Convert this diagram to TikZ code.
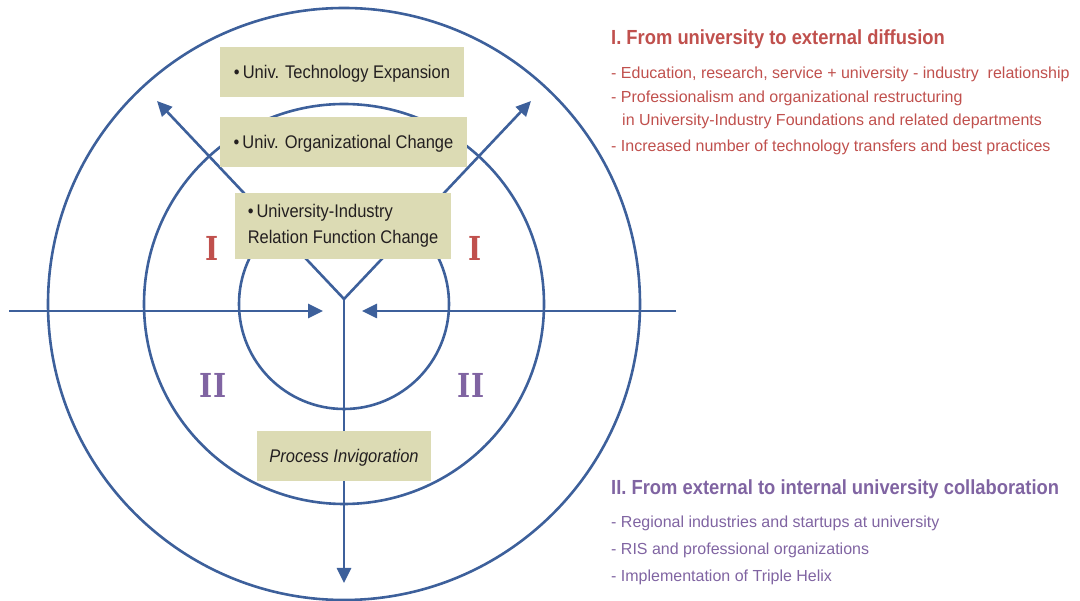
\documentclass[tikz,border=0pt]{standalone}
\usepackage{fontspec}
\setmainfont{Liberation Sans}
\newfontfamily\condfont{Liberation Sans}[FakeStretch=0.9]
\newfontfamily\numfont{DejaVu Serif}[FakeStretch=0.85]
\usetikzlibrary{arrows.meta}

\definecolor{ringblue}{RGB}{61,96,155}
\definecolor{boxfill}{RGB}{220,219,180}
\definecolor{textdark}{RGB}{35,31,32}
\definecolor{redone}{RGB}{192,80,77}
\definecolor{purpletwo}{RGB}{128,100,162}

\tikzset{
  ring/.style={ringblue,line width=2.6pt},
  flow/.style={ringblue,line width=2.6pt,-{Triangle[length=15pt,width=14pt]}},
  fieldbox/.style={fill=boxfill,text=textdark,inner sep=0pt,
    font=\condfont\fontsize{18.3}{26}\selectfont},
  oneline/.style={text height=13.1pt,text depth=0pt},
  roman/.style={font=\numfont\bfseries\fontsize{33}{33}\selectfont,inner sep=0pt},
  headline/.style={anchor=base west,inner sep=0pt,
    font=\condfont\bfseries\fontsize{20.4}{24}\selectfont},
  listline/.style={anchor=base west,inner sep=0pt,
    font=\fontsize{16}{20}\selectfont}
}

\begin{document}
\begin{tikzpicture}[x=1pt,y=-1pt]
\useasboundingbox (0,0) rectangle (1080,601);

% rings
\coordinate (ctr) at (344,304);
\draw [ring] (ctr) circle (296pt);
\draw [ring] (ctr) circle (200pt);
\draw [ring] (ctr) circle (105pt);

% arrows
\coordinate (hub) at (344,299);
\coordinate (nw) at (157,101);
\coordinate (ne) at (531,101);
\coordinate (south) at (344,583);
\coordinate (west) at (9,311);
\coordinate (westtip) at (323,311);
\coordinate (east) at (676,311);
\coordinate (easttip) at (362,311);

\draw [flow] (hub) -- (nw);
\draw [flow] (hub) -- (ne);
\draw [flow] (hub) -- (south);
\draw [flow] (west) -- (westtip);
\draw [flow] (east) -- (easttip);

% boxes
\node [fieldbox,oneline,minimum width=244pt,minimum height=50pt] (techexp) at (342,72)
  {\textbullet\,Univ. Technology Expansion};
\node [fieldbox,oneline,minimum width=247pt,minimum height=50pt] (orgchange) at (343.5,142)
  {\textbullet\,Univ. Organizational Change};
\node [fieldbox,minimum width=216pt,minimum height=66pt,align=left] (relchange) at (343,226)
  {\textbullet\,University-Industry\\Relation Function Change};
\node [fieldbox,oneline,minimum width=174pt,minimum height=50pt] (invig) at (344,456)
  {\itshape Process Invigoration};

% zone marks
\node [roman,redone] (ileft) at (212,248) {I};
\node [roman,redone] (iright) at (475,248) {I};
\node [roman,purpletwo] (iileft) at (213,385) {II};
\node [roman,purpletwo] (iiright) at (471,385) {II};

% legend
\node [headline,redone] (headone) at (611,45) {I. From university to external diffusion};
\node [listline,redone] (onea) at (611,79) {- Education, research, service + university - industry\ \ relationship};
\node [listline,redone] (oneb) at (611,103) {- Professionalism and organizational restructuring};
\node [listline,redone] (onec) at (622,126) {in University-Industry Foundations and related departments};
\node [listline,redone] (oned) at (611,152) {- Increased number of technology transfers and best practices};

\node [headline,purpletwo] (headtwo) at (611,495) {II. From external to internal university collaboration};
\node [listline,purpletwo] (twoa) at (611,528) {- Regional industries and startups at university};
\node [listline,purpletwo] (twob) at (611,555) {- RIS and professional organizations};
\node [listline,purpletwo] (twoc) at (611,582) {- Implementation of Triple Helix};
\end{tikzpicture}
\end{document}
